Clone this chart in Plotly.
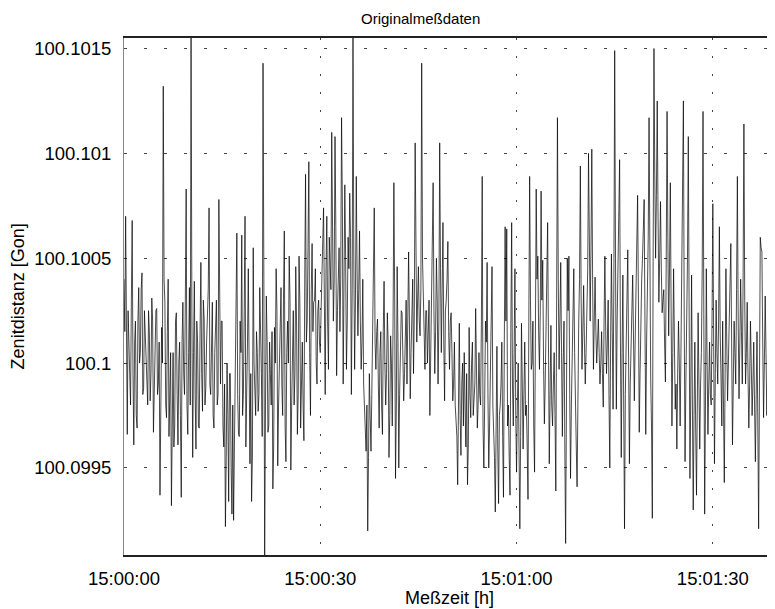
import pandas as pd
import plotly.graph_objects as go

# Zenitdistanz [Gon].
# zd_a: Messungen bei 15:00:00 + k*0.25 s, zd_b: die Messungen dazwischen (+0.125 s)
zd_a = [
    100.10040, 100.10070, 100.09966, 100.10010, 100.09980, 100.10068, 100.09961, 100.10020, 100.09969, 100.10036,
    100.10005, 100.10043, 100.09988, 100.10015, 100.09996, 100.10025, 100.09982, 100.10031, 100.09967, 100.10010,
    100.10026, 100.09990, 100.09937, 100.10017, 100.10132, 100.10029, 100.09974, 100.10040, 100.09980, 100.09932,
    100.10005, 100.09970, 100.10024, 100.09961, 100.10010, 100.09936, 100.10029, 100.09985, 100.10083, 100.09966,
    100.10036, 100.10160, 100.09955, 100.10039, 100.09959, 100.10010, 100.09969, 100.10048, 100.09977, 100.10021,
    100.09988, 100.10020, 100.10074, 100.09985, 100.10029, 100.09969, 100.10015, 100.09980, 100.10078, 100.09990,
    100.10020, 100.09960, 100.09922, 100.10000, 100.09934, 100.09995, 100.09928, 100.09925, 100.09990, 100.10062,
    100.09966, 100.10020, 100.10061, 100.09985, 100.10070, 100.09978, 100.10045, 100.09952, 100.09934, 100.10055,
    100.09990, 100.10015, 100.09977, 100.10036, 100.09995, 100.10143, 100.09907, 100.10032, 100.09967, 100.10010,
    100.09980, 100.09940, 100.10017, 100.10045, 100.09951, 100.10000, 100.10036, 100.09975, 100.10063, 100.09953,
    100.10020, 100.10051, 100.09949, 100.10015, 100.09980, 100.10046, 100.09966, 100.10051, 100.09969, 100.10010,
    100.09963, 100.10090, 100.10020, 100.10096, 100.09975, 100.10057, 100.10029, 100.10045, 100.09990, 100.10030,
    100.10005, 100.10040, 100.10074, 100.09985, 100.10070, 100.09997, 100.10045, 100.10110, 100.10020, 100.10108,
    100.09994, 100.10050, 100.10015, 100.10117, 100.09990, 100.10085, 100.09997, 100.10060, 100.10081, 100.09985,
    100.10158, 100.09997, 100.10089, 100.10013, 100.10063, 100.09997, 100.10040, 100.09975, 100.09958, 100.09920,
    100.09995, 100.09958, 100.10010, 100.10074, 100.09997, 100.10021, 100.09969, 100.10015, 100.09966, 100.10039,
    100.09980, 100.10024, 100.09955, 100.10013, 100.09970, 100.10086, 100.09945, 100.10046, 100.09950, 100.10010,
    100.10024, 100.09982, 100.10015, 100.09990, 100.10053, 100.09983, 100.10030, 100.09995, 100.10105, 100.10010,
    100.10046, 100.10013, 100.10143, 100.10032, 100.09997, 100.10025, 100.10019, 100.09975, 100.10010, 100.10086,
    100.09995, 100.10050, 100.09990, 100.10105, 100.10005, 100.10067, 100.09982, 100.10030, 100.10058, 100.09997,
    100.10024, 100.09982, 100.10010, 100.09970, 100.09942, 100.10019, 100.09956, 100.10000, 100.10005, 100.09960,
    100.09942, 100.10017, 100.09974, 100.10010, 100.09985, 100.10026, 100.09969, 100.10005, 100.09980, 100.10089,
    100.09950, 100.10020, 100.10048, 100.09950, 100.09990, 100.10046, 100.09970, 100.09929, 100.10008, 100.09933,
    100.09980, 100.10010, 100.09936, 100.10065, 100.10064, 100.09980, 100.09937, 100.10067, 100.09970, 100.10045,
    100.09948, 100.10000, 100.09921, 100.10019, 100.09959, 100.10010, 100.09980, 100.09935, 100.10089, 100.09997,
    100.10020, 100.09948, 100.10083, 100.10051, 100.09997, 100.10082, 100.10049, 100.09971, 100.10010, 100.10067,
    100.09952, 100.10018, 100.09970, 100.10005, 100.09939, 100.10117, 100.09997, 100.10048, 100.09965, 100.10020,
    100.09914, 100.10050, 100.10051, 100.09945, 100.10010, 100.10045, 100.09970, 100.09941, 100.10020, 100.10094,
    100.09997, 100.10037, 100.09990, 100.10025, 100.10100, 100.10020, 100.10102, 100.09997, 100.10041, 100.10000,
    100.10021, 100.09990, 100.10015, 100.09979, 100.10051, 100.09995, 100.10030, 100.09950, 100.10052, 100.09978,
    100.10149, 100.09978, 100.10040, 100.10097, 100.09955, 100.10042, 100.09921, 100.10010, 100.10054, 100.09952,
    100.10020, 100.10042, 100.09982, 100.10030, 100.10080, 100.09967, 100.10025, 100.10050, 100.10078, 100.09966,
    100.10030, 100.10117, 100.09993, 100.09926, 100.10150, 100.10050, 100.10125, 100.10029, 100.10077, 100.10024,
    100.10035, 100.09991, 100.10120, 100.10013, 100.10086, 100.09970, 100.10045, 100.09978, 100.09959, 100.10020,
    100.09970, 100.10045, 100.10125, 100.09953, 100.10015, 100.10108, 100.09945, 100.10042, 100.09930, 100.10010,
    100.09937, 100.10024, 100.09959, 100.10005, 100.10120, 100.09928, 100.10045, 100.09966, 100.10010, 100.09980,
    100.10076, 100.09952, 100.10030, 100.09990, 100.10065, 100.09982, 100.10020, 100.09943, 100.10045, 100.09982,
    100.10015, 100.10057, 100.09961, 100.10020, 100.09990, 100.10089, 100.09983, 100.10040, 100.09990, 100.10114,
    100.09990, 100.10029, 100.09969, 100.10020, 100.09975, 100.10010, 100.09953, 100.10015, 100.09921, 100.10060,
    100.10053, 100.09974, 100.10032, 100.09975, 100.10010, 100.10088, 100.10003, 100.10045, 100.09982,
]
zd_b = [
    100.10015, 100.09980, 100.10025, 100.09990, 100.10030, 100.09995, 100.10010, 100.09975, 100.10020, 100.10000,
    100.10035, 100.09985, 100.10025, 100.10005, 100.09980, 100.10015, 100.09995, 100.10020, 100.09990, 100.10025,
    100.09985, 100.10010, 100.09970, 100.10000, 100.10040, 100.09980, 100.10015, 100.09965, 100.10005, 100.09990,
    100.09960, 100.10020, 100.09985, 100.10000, 100.09975, 100.10010, 100.09995, 100.10030, 100.09980, 100.10005,
    100.09980, 100.10025, 100.10005, 100.09985, 100.10020, 100.09970, 100.10015, 100.09995, 100.10030, 100.09980,
    100.10010, 100.10035, 100.09990, 100.10020, 100.09975, 100.10005, 100.10030, 100.09985, 100.10010, 100.10020,
    100.09970, 100.09990, 100.09955, 100.09975, 100.09995, 100.09950, 100.09980, 100.09960, 100.10015, 100.09985,
    100.09965, 100.10005, 100.09975, 100.10025, 100.09960, 100.10010, 100.09970, 100.09995, 100.09955, 100.10000,
    100.09975, 100.10005, 100.09985, 100.10020, 100.09965, 100.10040, 100.09980, 100.10010, 100.09970, 100.09995,
    100.10015, 100.09960, 100.10000, 100.10025, 100.09980, 100.10010, 100.09990, 100.10030, 100.09970, 100.10005,
    100.10000, 100.10030, 100.09980, 100.10025, 100.09995, 100.10020, 100.09985, 100.10030, 100.10000, 100.09980,
    100.10040, 100.10010, 100.10055, 100.10005, 100.10035, 100.10015, 100.10030, 100.10000, 100.10025, 100.10010,
    100.10025, 100.10055, 100.10030, 100.10045, 100.10020, 100.10060, 100.10035, 100.10070, 100.10040, 100.10065,
    100.10025, 100.10055, 100.10040, 100.10075, 100.10030, 100.10050, 100.10020, 100.10045, 100.10060, 100.10035,
    100.10050, 100.10030, 100.10045, 100.10035, 100.10020, 100.10010, 100.09990, 100.09970, 100.09980, 100.09955,
    100.09975, 100.09985, 100.10030, 100.10010, 100.10015, 100.09990, 100.10005, 100.09980, 100.10015, 100.10000,
    100.09995, 100.10010, 100.09975, 100.10000, 100.10020, 100.10030, 100.09980, 100.10010, 100.09985, 100.10025,
    100.10000, 100.09995, 100.10030, 100.10015, 100.10020, 100.10005, 100.10040, 100.10025, 100.10045, 100.10030,
    100.10020, 100.10035, 100.10050, 100.10010, 100.10025, 100.10000, 100.10030, 100.10005, 100.10040, 100.10025,
    100.10015, 100.10030, 100.10020, 100.10045, 100.10035, 100.10010, 100.10025, 100.10040, 100.10015, 100.10020,
    100.10005, 100.09990, 100.09980, 100.09965, 100.09985, 100.09975, 100.09990, 100.09970, 100.09980, 100.09995,
    100.09960, 100.09985, 100.10000, 100.09975, 100.09990, 100.10000, 100.09980, 100.09985, 100.10020, 100.09970,
    100.09980, 100.10010, 100.09985, 100.09970, 100.10015, 100.09980, 100.09955, 100.09970, 100.09960, 100.09975,
    100.09990, 100.09965, 100.10010, 100.10020, 100.09970, 100.09955, 100.10015, 100.09990, 100.10005, 100.09975,
    100.09980, 100.09960, 100.09965, 100.09990, 100.09985, 100.09975, 100.09960, 100.10020, 100.10030, 100.10000,
    100.09970, 100.10010, 100.10040, 100.10015, 100.10025, 100.10030, 100.10000, 100.09990, 100.10030, 100.10010,
    100.09985, 100.09980, 100.09990, 100.09975, 100.10030, 100.10040, 100.10020, 100.10005, 100.10000, 100.09960,
    100.09980, 100.10025, 100.09985, 100.09980, 100.10025, 100.10005, 100.09960, 100.09990, 100.10040, 100.10030,
    100.10015, 100.10010, 100.10005, 100.10045, 100.10050, 100.10055, 100.10040, 100.10020, 100.10015, 100.10010,
    100.10005, 100.10000, 100.09995, 100.10020, 100.10015, 100.10010, 100.09985, 100.10010, 100.10015, 100.10040,
    100.10050, 100.10020, 100.10060, 100.10010, 100.10005, 100.09980, 100.09985, 100.10030, 100.10000, 100.09990,
    100.10025, 100.10005, 100.10010, 100.10045, 100.10030, 100.09995, 100.10040, 100.10060, 100.10020, 100.10010,
    100.10060, 100.10040, 100.09970, 100.10050, 100.10090, 100.10080, 100.10070, 100.10050, 100.10045, 100.10030,
    100.10010, 100.10050, 100.10060, 100.10045, 100.10025, 100.10005, 100.10010, 100.09990, 100.09995, 100.10000,
    100.10005, 100.10060, 100.10020, 100.09990, 100.10050, 100.10020, 100.09985, 100.09980, 100.09975, 100.09970,
    100.09980, 100.09990, 100.09990, 100.10045, 100.10020, 100.09980, 100.10000, 100.09990, 100.09985, 100.10020,
    100.10010, 100.09995, 100.10005, 100.10020, 100.10015, 100.09970, 100.09985, 100.09995, 100.10010, 100.10000,
    100.10030, 100.10010, 100.09990, 100.10005, 100.10035, 100.10020, 100.10010, 100.10015, 100.10040, 100.10030,
    100.10005, 100.09995, 100.09990, 100.10000, 100.09990, 100.09980, 100.09985, 100.09970, 100.09990, 100.10055,
    100.10010, 100.10000, 100.10005, 100.09995, 100.10040, 100.10030, 100.10020, 100.10015, 100.10010,
]
start = "2000-01-01 15:00:00"
end = "2000-01-01 15:01:39.5"
sample_step = "125ms"
y_ticks = [100.0995, 100.1, 100.1005, 100.101, 100.1015]
y_ticktext = ["100.0995", "100.1", "100.1005", "100.101", "100.1015"]

zd = [v for pair in zip(zd_a, zd_b) for v in pair]
t = pd.date_range(start, periods=len(zd), freq=sample_step)

fig = go.Figure()
fig.add_trace(go.Scatter(x=t, y=zd, mode="lines",
                         line=dict(color="black", width=0.7),
                         showlegend=False))

# the page body has an 8px margin, so the figure is 8px smaller than the window
font = "Liberation Sans, Arial, sans-serif"
fig.update_layout(
    width=767, height=601,
    margin=dict(l=116, r=0, t=30, b=54, autoexpand=False),
    paper_bgcolor="white", plot_bgcolor="white",
    font=dict(family=font, color="black", size=18),
    title=dict(text="Originalmeßdaten", x=0.538, xanchor="center",
               y=0.9817, yanchor="middle", font=dict(size=15)),
    annotations=[
        dict(text="Meßzeit [h]", xref="paper", yref="paper", x=0.5, y=-0.083,
             xanchor="center", yanchor="middle", showarrow=False, font=dict(size=18)),
        dict(text="Zenitdistanz [Gon]", xref="paper", yref="paper", x=-0.163, y=0.5,
             xanchor="center", yanchor="middle", textangle=-90, showarrow=False,
             font=dict(size=18)),
    ],
)
fig.update_xaxes(
    type="date", automargin=False,
    range=[start, end],
    tickformat="%H:%M:%S", dtick=30000, tick0=start,
    ticks="", ticklabelstandoff=6, tickfont=dict(size=18.5),
    showgrid=True, gridcolor="#444", gridwidth=1, griddash="2px,16px",
    showline=True, linecolor="#222", linewidth=1.5, mirror=True,
    zeroline=False,
)
fig.update_yaxes(
    automargin=False,
    range=[100.099085, 100.10155],
    tickvals=y_ticks, ticktext=y_ticktext,
    ticks="", ticklabelstandoff=8, tickfont=dict(size=18.5),
    showgrid=True, gridcolor="#444", gridwidth=1, griddash="3px,17px",
    showline=True, linecolor="#888", linewidth=1,
    zeroline=False,
)

fig.write_html("out.html")
